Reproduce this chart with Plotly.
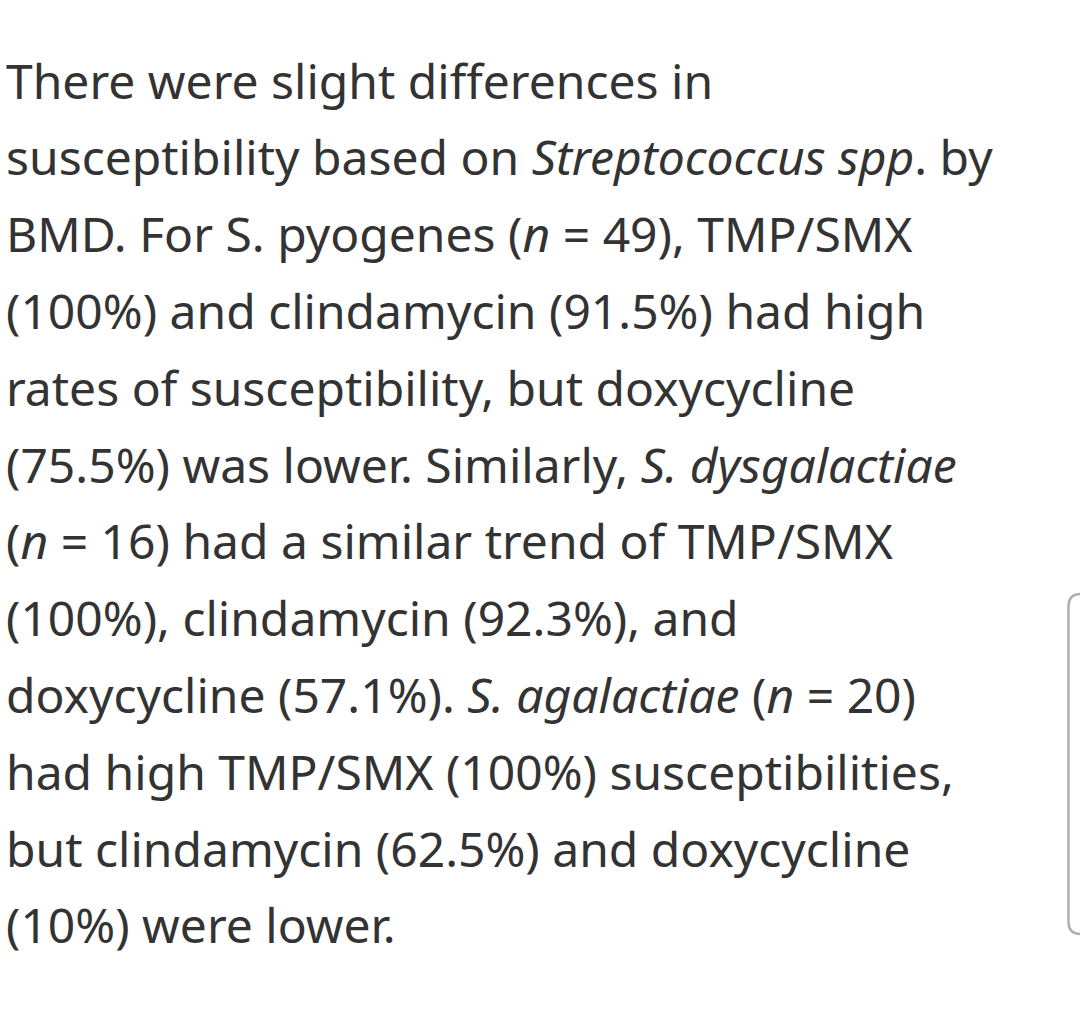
import plotly.graph_objects as go

# Text content (one entry per rendered line)
lines = [
    "There were slight differences in",
    "susceptibility based on <i>Streptococcus spp</i>. by",
    "BMD. For S. pyogenes (<i>n</i> = 49), TMP/SMX",
    "(100%) and clindamycin (91.5%) had high",
    "rates of susceptibility, but doxycycline",
    "(75.5%) was lower. Similarly, <i>S. dysgalactiae</i>",
    "(<i>n</i> = 16) had a similar trend of TMP/SMX",
    "(100%), clindamycin (92.3%), and",
    "doxycycline (57.1%). <i>S. agalactiae</i> (<i>n</i> = 20)",
    "had high TMP/SMX (100%) susceptibilities,",
    "but clindamycin (62.5%) and doxycycline",
    "(10%) were lower.",
]

W, H = 1080, 1011
first_line_y = 80
line_step = 76.8
left_x = 4

fig = go.Figure()
fig.add_trace(go.Scatter(x=[0, W], y=[0, H], mode="markers",
                         marker=dict(opacity=0), hoverinfo="skip", showlegend=False))

for i, t in enumerate(lines):
    fig.add_annotation(
        x=left_x, y=first_line_y + i * line_step, xref="x", yref="y",
        text=t, showarrow=False, xanchor="left", yanchor="middle",
        font=dict(family="Noto Sans", size=48, color="#333333"),
    )

# scroll-like rounded box at right edge
x0, x1, y0, y1, r = 1068.5, 1100, 594, 934, 12
path = (f"M {x0+r},{y0} L {x1},{y0} L {x1},{y1} L {x0+r},{y1} "
        f"Q {x0},{y1} {x0},{y1-r} L {x0},{y0+r} Q {x0},{y0} {x0+r},{y0} Z")
fig.add_shape(type="path", path=path, xref="x", yref="y",
              line=dict(color="#b0b0b0", width=2.5), fillcolor="rgba(0,0,0,0)")

fig.update_layout(
    width=W, height=H, margin=dict(l=0, r=0, t=0, b=0),
    paper_bgcolor="white", plot_bgcolor="white",
    xaxis=dict(range=[0, W], visible=False, fixedrange=True),
    yaxis=dict(range=[H, 0], visible=False, fixedrange=True),
    showlegend=False,
)

fig.write_html("out.html", config={"displayModeBar": False},
               post_script="document.body.style.margin='0';document.body.style.overflow='hidden';")
